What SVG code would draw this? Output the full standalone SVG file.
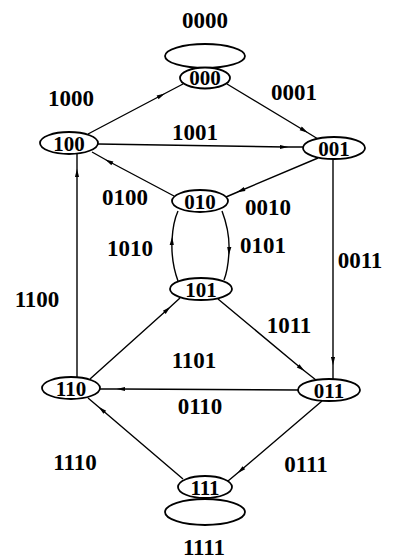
<svg xmlns="http://www.w3.org/2000/svg" width="398" height="560" viewBox="0 0 398 560">
<style>
.n{fill:#fff;stroke:#000;stroke-width:1.8}
.loop{fill:none;stroke:#000;stroke-width:1.8}
.e{fill:none;stroke:#000;stroke-width:1.4;marker-mid:url(#a)}
text{font-family:"Liberation Serif","Times New Roman",serif;font-size:23px;font-weight:bold;fill:#000;text-anchor:middle}
.nt{font-size:21px}
</style>
<defs>
<marker id="a" viewBox="0 0 10 6" refX="6" refY="3" markerWidth="10" markerHeight="5" markerUnits="userSpaceOnUse" orient="auto">
<path d="M0,0.5 L10,3 L0,5.5 Z" fill="#000"/>
</marker>
</defs>
<rect width="398" height="560" fill="#fff"/>
<g id="connectors">
<polyline class="e" points="88,134 162,95 183,84"/>
<polyline class="e" points="227,84 305,131 318,139"/>
<polyline class="e" points="98,144 285,147 303,147"/>
<polyline class="e" points="174,196 108,161 92,152"/>
<polyline class="e" points="318,158 240,191 226,197"/>
<polyline class="e" points="333,159 333,362 333,379"/>
<polyline class="e" points="77,377 77,172 77,154"/>
<path class="e" d="M178,281 Q171,262 172,240 Q173,222 178,211"/>
<path class="e" d="M222,211 Q230,232 229,252 Q228,270 224,280"/>
<polyline class="e" points="218,299 302,369 316,380"/>
<polyline class="e" points="90,379 168,309 180,298"/>
<polyline class="e" points="298,390 120,389 100,389"/>
<polyline class="e" points="322,401 240,471 228,481"/>
<polyline class="e" points="183,479 101,409 88,398"/>
<ellipse class="loop" cx="205" cy="56" rx="40" ry="12"/>
<ellipse class="loop" cx="205" cy="512" rx="40" ry="13"/>
</g>
<g id="edge-labels">
<text x="205" y="28">0000</text>
<text x="71" y="106">1000</text>
<text x="294" y="100">0001</text>
<text x="195" y="140">1001</text>
<text x="125" y="205">0100</text>
<text x="268" y="215">0010</text>
<text x="130" y="256">1010</text>
<text x="263" y="253">0101</text>
<text x="360" y="268">0011</text>
<text x="37" y="307">1100</text>
<text x="289" y="333">1011</text>
<text x="194" y="368">1101</text>
<text x="200" y="414">0110</text>
<text x="75" y="470">1110</text>
<text x="306" y="472">0111</text>
<text x="204" y="555">1111</text>
</g>
<g id="n000"><ellipse class="n" cx="205" cy="78" rx="25" ry="10.5"/><text class="nt" x="205" y="85">000</text></g>
<g id="n100"><ellipse class="n" cx="69" cy="143" rx="29" ry="11"/><text class="nt" x="69" y="151">100</text></g>
<g id="n001"><ellipse class="n" cx="334" cy="148" rx="31" ry="11"/><text class="nt" x="334" y="156">001</text></g>
<g id="n010"><ellipse class="n" cx="200" cy="201" rx="28" ry="11"/><text class="nt" x="200" y="209">010</text></g>
<g id="n101"><ellipse class="n" cx="201" cy="289" rx="31" ry="11"/><text class="nt" x="201" y="297">101</text></g>
<g id="n110"><ellipse class="n" cx="71" cy="388" rx="29" ry="11"/><text class="nt" x="71" y="396">110</text></g>
<g id="n011"><ellipse class="n" cx="329" cy="390" rx="31" ry="11"/><text class="nt" x="329" y="398">011</text></g>
<g id="n111"><ellipse class="n" cx="205" cy="487" rx="27" ry="11"/><text class="nt" x="205" y="495">111</text></g>
</svg>
